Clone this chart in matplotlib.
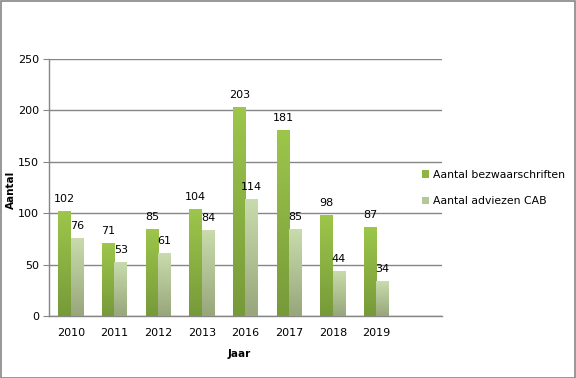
import numpy as np
import matplotlib
matplotlib.use("Agg")
import matplotlib.pyplot as plt
from matplotlib.colors import LinearSegmentedColormap
from matplotlib.patches import Rectangle

# data
jaren = ["2010", "2011", "2012", "2013", "2016", "2017", "2018", "2019"]
bezwaarschriften = [102, 71, 85, 104, 203, 181, 98, 87]
adviezen_cab = [76, 53, 61, 84, 114, 85, 44, 34]

plt.rcParams['font.family'] = ['DejaVu Sans']

fig = plt.figure(figsize=(5.76, 3.78), dpi=100)
ax = fig.add_axes([49/576, 1 - 316/378, (442-49)/576, (316-59)/378])

# outer border of the chart
fig.patches.append(Rectangle((0.5/576, 0.5/378), 1 - 1.5/576, 1 - 1.5/378,
                             transform=fig.transFigure, fill=False,
                             edgecolor='#868686', linewidth=1.2))

x = np.arange(len(jaren))
w = 0.285

cm_dark = LinearSegmentedColormap.from_list('d', ['#779a39', '#9dc64b'])
cm_light = LinearSegmentedColormap.from_list('l', ['#98a77b', '#c9dcad'])

def grad_bars(xs, vals, cmap, label, color):
    bars = ax.bar(xs, vals, w, color=color, label=label, zorder=3)
    grad = np.linspace(0, 1, 100).reshape(-1, 1)
    for b in bars:
        x0, y0 = b.get_x(), b.get_y()
        im = ax.imshow(grad, cmap=cmap, origin='lower', aspect='auto',
                       extent=[x0, x0 + b.get_width(), y0, y0 + b.get_height()],
                       zorder=3.5)
        im.set_clip_path(b)
    return bars

b1 = grad_bars(x - w/2, bezwaarschriften, cm_dark, 'Aantal bezwaarschriften', '#8db543')
b2 = grad_bars(x + w/2, adviezen_cab, cm_light, 'Aantal adviezen CAB', '#b3c797')

for bars, vals in ((b1, bezwaarschriften), (b2, adviezen_cab)):
    for b, v in zip(bars, vals):
        ax.annotate(str(v), (b.get_x() + b.get_width()/2, v), xytext=(0, 5),
                    textcoords='offset points', ha='center', va='bottom',
                    fontsize=8, color='black', zorder=5)

ax.set_xlim(-0.5, len(jaren) + 0.5)
ax.set_ylim(0, 250)
ax.set_yticks(range(0, 251, 50))
ax.set_xticks(x)
ax.set_xticklabels(jaren)
ax.tick_params(axis='x', length=0, labelsize=8, pad=9)
ax.tick_params(axis='y', length=4, color='#868686', labelsize=8, pad=3)
ax.grid(axis='y', color='#868686', linewidth=1, zorder=0)
for s in ['top', 'right']:
    ax.spines[s].set_visible(False)
for s in ['left', 'bottom']:
    ax.spines[s].set_color('#868686')
    ax.spines[s].set_linewidth(1)

ax.set_xlabel('Jaar', fontsize=7.5, fontweight='bold')
ax.xaxis.set_label_coords((239 - 49) / 393, -(349 - 316) / 257)
ax.set_ylabel('Aantal', fontsize=7.5, fontweight='bold')
ax.yaxis.set_label_coords(-(49 - 16) / 393, (316 - 190) / 257)

leg = fig.legend(handles=[b1, b2], loc='center left',
                 bbox_to_anchor=(412/576, 1 - 188/378), frameon=False,
                 fontsize=7.8, handlelength=0.7, handleheight=0.7,
                 handletextpad=0.3, labelspacing=1.5)

fig.savefig('out.png', dpi=100)
